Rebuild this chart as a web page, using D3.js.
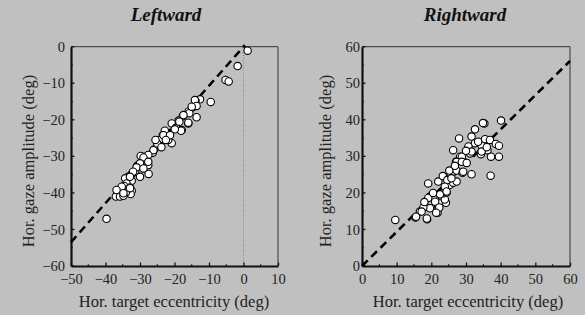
<!DOCTYPE html>
<html><head><meta charset="utf-8">
<script src="https://cdn.jsdelivr.net/npm/d3@7"></script>
<style>body{margin:0;background:#c0c0c0;} svg{display:block;}</style>
</head><body>
<svg id="c" width="585" height="315"></svg>
<script>
// ---- data ----
const titles = ["Leftward", "Rightward"];
const xLabel = "Hor. target eccentricity (deg)";
const yLabel = "Hor. gaze amplitude (deg)";
const leftXTicks = [-50, -40, -30, -20, -10, 0, 10];
const leftYTicks = [0, -10, -20, -30, -40, -50, -60];
const rightXTicks = [0, 10, 20, 30, 40, 50, 60];
const rightYTicks = [0, 10, 20, 30, 40, 50, 60];
const leftFitSlope = 1.07;
const rightFitSlope = 0.935;
const leftX = [1.2,-1.7,-5.2,-4.3,-9.5,-12.6,-13.9,-13.6,-14.9,-15.9,-17.6,-16.0,-18.8,-20.8,-17.9,-19.6,-22.8,-23.4,-22.5,-20.8,-21.8,-24.2,-24.2,-25.9,-26.3,-28.6,-29.8,-28.1,-28.8,-27.6,-27.5,-30.8,-31.4,-32.4,-33.4,-34.3,-32.4,-33.9,-34.6,-32.9,-32.4,-32.7,-34.1,-35.3,-36.6,-37.0,-35.8,-34.8,-39.7,-15.7,-17.4,-18.6,-18.1,-19.9,-23.2,-21.3,-22.5,-26.1,-27.6,-29.0,-27.6,-30.0,-31.0,-29.0,-32.0,-32.9,-30.0,-35.3,-32.9,-36.8,-34.8,-14.1,-13.6,-15.0,-16.0,-25.0,-23.8,-25.5];
const leftY = [-1.1,-5.3,-9.1,-9.5,-15.1,-14.4,-14.8,-19.3,-16.6,-17.7,-19.0,-21.0,-20.2,-21.0,-22.8,-22.2,-23.0,-24.2,-24.6,-26.4,-25.5,-25.5,-27.2,-28.1,-29.0,-30.1,-29.9,-30.8,-31.9,-32.4,-34.8,-32.6,-34.2,-34.8,-35.6,-36.0,-36.7,-37.4,-38.1,-38.5,-39.4,-40.3,-39.9,-40.1,-39.9,-41.0,-41.0,-40.8,-47.1,-18.2,-18.7,-20.5,-23.0,-22.6,-24.2,-24.2,-25.5,-28.3,-29.6,-30.3,-31.5,-31.9,-33.0,-33.3,-34.2,-35.6,-35.6,-38.3,-38.7,-39.2,-40.1,-14.6,-16.2,-16.4,-20.8,-26.5,-27.5,-25.5];
const rightX = [9.6,15.4,16.7,18.8,19.1,18.2,19.6,21.8,22.0,21.1,19.6,22.5,24.2,23.9,23.5,22.0,23.3,24.4,25.4,26.3,25.6,26.2,25.2,27.1,27.3,29.0,29.0,31.6,31.2,37.1,37.2,39.5,26.3,34.3,40.1,35.3,34.9,32.6,28.0,31.6,35.5,36.9,32.6,30.7,34.5,38.6,39.5,31.6,36.2,34.5,28.3,28.8,27.3,28.8,30.2,26.8,29.2,24.6,27.3,23.9,20.6,19.1,22.5,24.4,21.1,17.7,22.3,21.4,18.7,15.6,17.2,30.0,33.5,36.0,20.5,18.0,25.8];
const rightY = [12.6,13.3,14.9,12.8,22.6,16.3,15.8,14.6,16.3,18.2,19.0,17.1,17.3,18.2,19.9,23.1,24.6,20.1,22.2,22.8,25.2,25.8,26.1,28.5,26.1,25.5,28.8,25.1,30.8,24.7,29.9,29.9,31.7,30.6,39.8,39.0,39.1,37.4,34.9,35.4,34.7,34.5,33.6,32.7,32.9,33.4,32.9,31.3,31.7,31.3,29.9,29.9,28.5,28.5,28.2,27.4,25.8,23.5,23.1,21.7,19.0,18.6,19.6,20.4,17.6,16.0,16.0,14.6,13.0,13.5,14.9,31.5,34.0,32.5,20.0,17.5,24.0];

// ---- drawing ----
const svg = d3.select("#c");
const serif = "'Liberation Serif','Times New Roman',serif";
const plotTop = 46.7, plotBottom = 266;

const panels = [
  {title: titles[0], cx: 166, x0: 71, x1: 278, xd: [-50, 10], yd: [-60, 0], xt: leftXTicks, yt: leftYTicks,
   px: leftX, py: leftY, slope: leftFitSlope, fit: [-50, 0.4], ylabX: 33.5, ytickX: 65, vline: true, xlabCx: 174},
  {title: titles[1], cx: 465, x0: 362, x1: 570, xd: [0, 60], yd: [0, 60], xt: rightXTicks, yt: rightYTicks,
   px: rightX, py: rightY, slope: rightFitSlope, fit: [0, 60], ylabX: 330.5, ytickX: 360, vline: false, xlabCx: 468}
];

panels.forEach(p => {
  const g = svg.append("g");
  const x = d3.scaleLinear().domain(p.xd).range([p.x0, p.x1]);
  const y = d3.scaleLinear().domain(p.yd).range([plotBottom, plotTop]);

  g.append("text").attr("x", p.cx).attr("y", 20.5).attr("text-anchor", "middle")
    .attr("font-family", serif).attr("font-size", 19).attr("font-weight", "bold").attr("font-style", "italic")
    .attr("fill", "#111").text(p.title);

  g.append("path").attr("d", `M${p.x0},${plotTop}H${p.x1}V${plotBottom}`).attr("fill", "none").attr("stroke", "#333").attr("stroke-width", 1);

  if (p.vline) {
    g.append("line").attr("x1", x(0)).attr("x2", x(0)).attr("y1", y(p.yd[0])).attr("y2", y(p.yd[1]))
      .attr("stroke", "#777").attr("stroke-width", 0.8).attr("stroke-dasharray", "1,1.5");
  }

  const xMinor = d3.range(p.xd[0] + 5, p.xd[1], 10);
  const yMinor = d3.range(p.yd[0] + 5, p.yd[1], 10);
  g.selectAll(".xm").data(xMinor).join("line").attr("x1", d => x(d)).attr("x2", d => x(d))
    .attr("y1", plotBottom).attr("y2", plotBottom - 2).attr("stroke", "#222").attr("stroke-width", 1);
  g.selectAll(".ym").data(yMinor).join("line").attr("y1", d => y(d)).attr("y2", d => y(d))
    .attr("x1", p.x0).attr("x2", p.x0 + 2).attr("stroke", "#222").attr("stroke-width", 1);

  const xa = g.append("g").attr("transform", `translate(0,${plotBottom})`)
    .call(d3.axisBottom(x).tickValues(p.xt).tickSize(-3.5).tickPadding(8).tickSizeOuter(0).tickFormat(d3.format("d")));
  xa.select(".domain").attr("stroke", "#111").attr("stroke-width", 2.2);
  xa.selectAll(".tick line").attr("stroke", "#111").attr("stroke-width", 1.3);
  xa.selectAll("text").attr("font-family", serif).attr("font-size", 14.5).attr("fill", "#222");

  const ya = g.append("g").attr("transform", `translate(${p.x0},0)`)
    .call(d3.axisLeft(y).tickValues(p.yt).tickSize(0).tickSizeOuter(0).tickPadding(p.x0 - p.ytickX).tickFormat(d3.format("d")));
  ya.select(".domain").attr("stroke", "#111").attr("stroke-width", 2.2);
  ya.selectAll("text").attr("font-family", serif).attr("font-size", 14.5).attr("fill", "#222");
  g.selectAll(".ymaj").data(p.yt).join("line").attr("y1", d => y(d)).attr("y2", d => y(d))
    .attr("x1", p.x0).attr("x2", p.x0 + 3.5).attr("stroke", "#111").attr("stroke-width", 1.3);

  g.append("line").attr("x1", x(p.fit[0])).attr("y1", y(p.fit[0] * p.slope))
    .attr("x2", x(p.fit[1])).attr("y2", y(p.fit[1] * p.slope))
    .attr("stroke", "#000").attr("stroke-width", 2.6).attr("stroke-dasharray", "8,5");

  g.selectAll(".pt").data(d3.range(p.px.length)).join("circle")
    .attr("cx", i => x(p.px[i])).attr("cy", i => y(p.py[i])).attr("r", 3.7)
    .attr("fill", "#fff").attr("stroke", "#000").attr("stroke-width", 1.1);

  g.append("text").attr("x", p.xlabCx).attr("y", 306.5).attr("text-anchor", "middle")
    .attr("font-family", serif).attr("font-size", 16.5).attr("fill", "#222").text(xLabel);
  g.append("text").attr("transform", `translate(${p.ylabX},161) rotate(-90)`)
    .attr("text-anchor", "middle").attr("font-family", serif).attr("font-size", 16.5).attr("fill", "#222").text(yLabel);
});
</script>
</body></html>
